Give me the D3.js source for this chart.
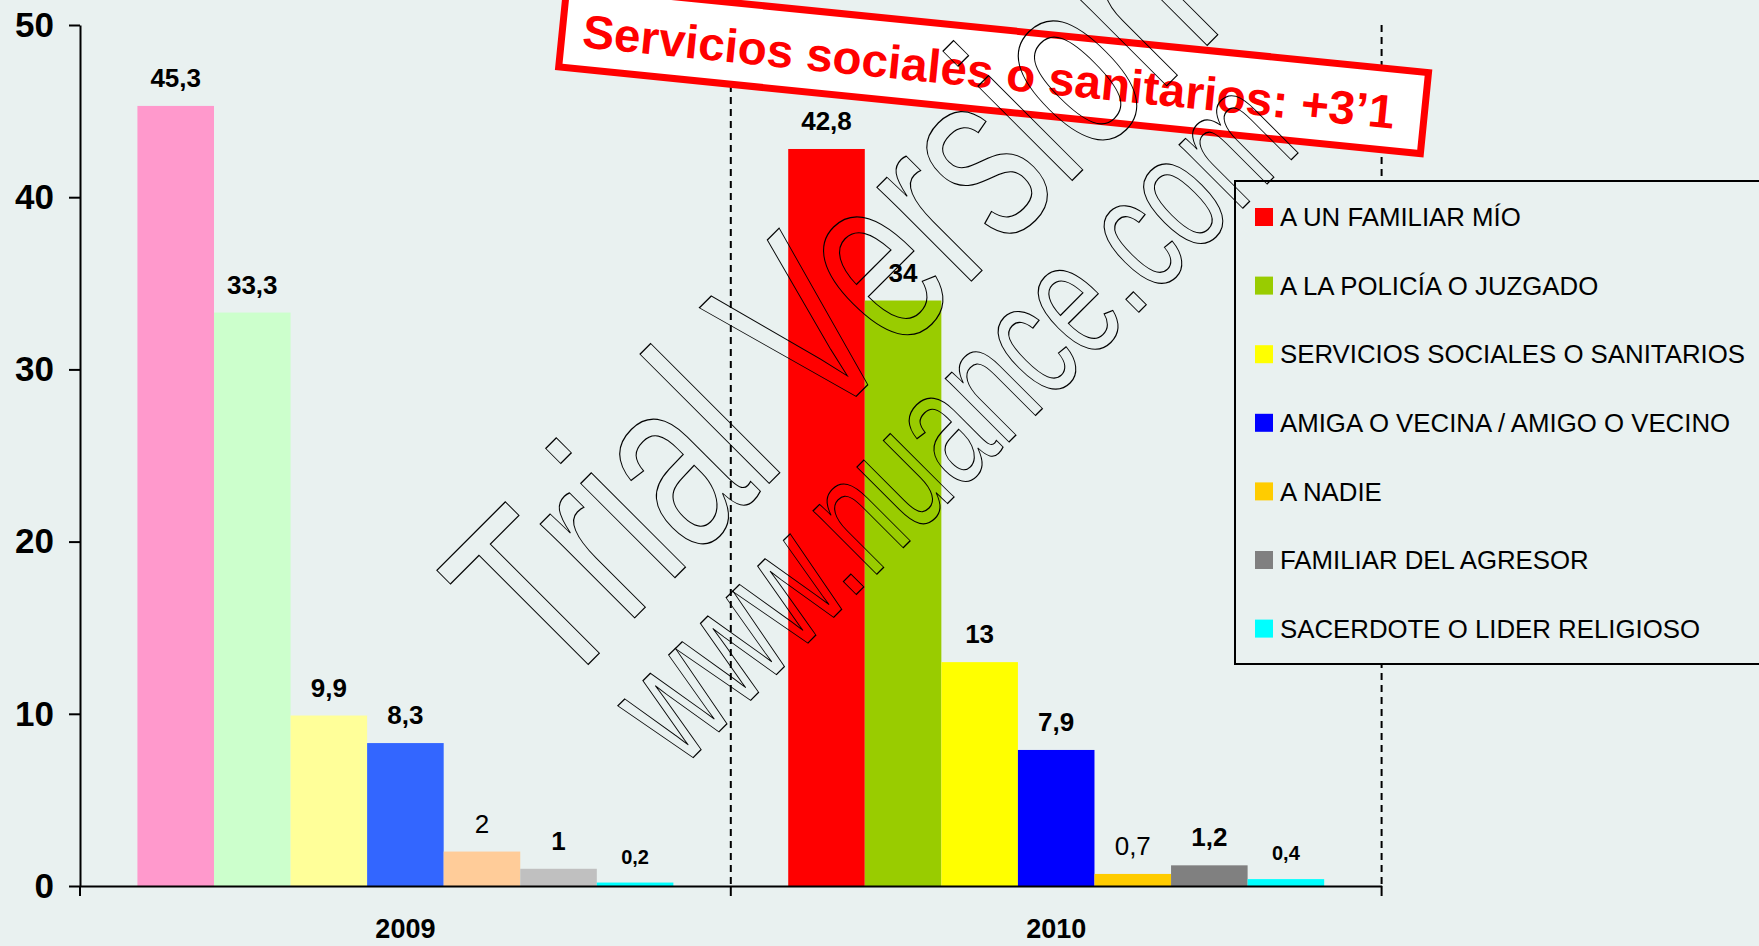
<!DOCTYPE html>
<html>
<head>
<meta charset="utf-8">
<script src="https://cdn.jsdelivr.net/npm/d3@7"></script>
<style>
  html, body { margin: 0; padding: 0; background: #e9f1f0; }
  svg { display: block; font-family: "Liberation Sans", Arial, sans-serif; }
</style>
</head>
<body>
<svg width="1759" height="946"></svg>
<script>
// Data
var years = ["2009", "2010"];
var series = [
  "A UN FAMILIAR MÍO",
  "A LA POLICÍA O JUZGADO",
  "SERVICIOS SOCIALES O SANITARIOS",
  "AMIGA O VECINA / AMIGO O VECINO",
  "A NADIE",
  "FAMILIAR DEL AGRESOR",
  "SACERDOTE O LIDER RELIGIOSO"
];
var values2009 = [45.3, 33.3, 9.9, 8.3, 2, 1, 0.2];
var values2010 = [42.8, 34, 13, 7.9, 0.7, 1.2, 0.4];
var colors2009 = ["#ff99cc", "#ccffcc", "#ffff99", "#3366ff", "#ffcc99", "#c0c0c0", "#00ffff"];
var colors2010 = ["#ff0000", "#99cc00", "#ffff00", "#0000ff", "#ffcc00", "#808080", "#00ffff"];
var yTicks = [0, 10, 20, 30, 40, 50];
var bannerText = "Servicios sociales o sanitarios: +3’1";
var watermark = ["Trial Version", "www.nuance.com"];

var svg = d3.select("svg"),
    width = +svg.attr("width"),
    height = +svg.attr("height");

var plot = { left: 80, right: 1381.6, top: 25, bottom: 886 };

svg.append("rect").attr("width", width).attr("height", height).attr("fill", "#e9f1f0");

// Scales
var x0 = d3.scaleBand().domain(years).range([plot.left, plot.right]).padding(0);
var x1 = d3.scaleBand().domain(series).range([0, x0.bandwidth()])
    .paddingInner(0).paddingOuter(0.75);
var y = d3.scaleLinear().domain([0, 50]).range([plot.bottom, plot.top]);

var rows = years.map(function(yr, i) {
  var vals = i === 0 ? values2009 : values2010;
  var cols = i === 0 ? colors2009 : colors2010;
  return series.map(function(s, j) {
    return { year: yr, key: s, idx: j, value: vals[j], color: cols[j] };
  });
});

// Dashed separators
svg.append("g")
  .selectAll("line")
  .data(years.slice(1).concat(["end"]))
  .enter().append("line")
    .attr("x1", function(d) { return d === "end" ? plot.right : x0(d); })
    .attr("x2", function(d) { return d === "end" ? plot.right : x0(d); })
    .attr("y1", plot.top)
    .attr("y2", plot.bottom)
    .attr("stroke", "#000")
    .attr("stroke-width", 2)
    .attr("stroke-dasharray", "7,5");

// Bars
var groups = svg.append("g")
  .selectAll("g")
  .data(rows)
  .enter().append("g")
    .attr("transform", function(d) { return "translate(" + x0(d[0].year) + ",0)"; });

groups.selectAll("rect")
  .data(function(d) { return d; })
  .enter().append("rect")
    .attr("x", function(d) { return x1(d.key); })
    .attr("y", function(d) { return y(d.value); })
    .attr("width", x1.bandwidth())
    .attr("height", function(d) { return y(0) - y(d.value); })
    .attr("fill", function(d) { return d.color; });

// Value labels
groups.selectAll("text")
  .data(function(d) { return d; })
  .enter().append("text")
    .attr("x", function(d) { return x1(d.key) + x1.bandwidth() / 2; })
    .attr("y", function(d) { return y(d.value) - 19; })
    .attr("text-anchor", "middle")
    .attr("font-size", function(d) { return d.idx === 6 ? 20 : 26; })
    .attr("font-weight", function(d) { return d.idx === 4 ? "normal" : "bold"; })
    .attr("fill", "#000")
    .text(function(d) { return String(d.value).replace(".", ","); });

// Y axis
var yAxis = svg.append("g")
  .attr("transform", "translate(" + plot.left + ",0)")
  .call(d3.axisLeft(y).tickValues(yTicks).tickSize(11).tickSizeOuter(0).tickPadding(15));
yAxis.select(".domain").attr("stroke", "#000").attr("stroke-width", 2);
yAxis.selectAll(".tick line").attr("stroke", "#000").attr("stroke-width", 2);
yAxis.selectAll(".tick text")
  .attr("font-family", "'Liberation Sans', Arial, sans-serif")
  .attr("font-size", 35)
  .attr("font-weight", "bold")
  .attr("fill", "#000");

// X axis
var xAxis = svg.append("g")
  .attr("transform", "translate(0," + plot.bottom + ")")
  .call(d3.axisBottom(x0).tickSize(0).tickPadding(33));
xAxis.select(".domain").attr("stroke", "#000").attr("stroke-width", 2);
xAxis.selectAll(".tick text")
  .attr("font-family", "'Liberation Sans', Arial, sans-serif")
  .attr("font-size", 27)
  .attr("font-weight", "bold")
  .attr("fill", "#000");
xAxis.selectAll("line.bound")
  .data(years.concat(["end"]))
  .enter().append("line")
    .attr("class", "bound")
    .attr("x1", function(d) { return d === "end" ? plot.right : x0(d); })
    .attr("x2", function(d) { return d === "end" ? plot.right : x0(d); })
    .attr("y1", 0)
    .attr("y2", 10)
    .attr("stroke", "#000")
    .attr("stroke-width", 2);

// Legend
var legend = svg.append("g").attr("transform", "translate(1235,181)");
legend.append("rect")
  .attr("width", 560).attr("height", 483)
  .attr("fill", "#e9f1f0").attr("stroke", "#000").attr("stroke-width", 2);
var item = legend.selectAll("g.item")
  .data(series)
  .enter().append("g")
    .attr("class", "item")
    .attr("transform", function(d, i) { return "translate(0," + (36 + i * 68.6) + ")"; });
item.append("rect")
  .attr("x", 20).attr("y", -9).attr("width", 18).attr("height", 18)
  .attr("fill", function(d, i) { return colors2010[i]; });
item.append("text")
  .attr("x", 45).attr("dy", "0.36em")
  .attr("font-size", 25.8)
  .attr("fill", "#000")
  .text(function(d) { return d; });

// Banner
var banner = svg.append("g").attr("transform", "translate(993.6,69.8) rotate(5.74)");
banner.append("rect")
  .attr("x", -433).attr("y", -40.7).attr("width", 866).attr("height", 81.4)
  .attr("fill", "#fff").attr("stroke", "#ff0000").attr("stroke-width", 7);
banner.append("text")
  .attr("x", -4.6).attr("y", 18.7)
  .attr("text-anchor", "middle")
  .attr("font-size", 47)
  .attr("font-weight", "bold")
  .attr("fill", "#ff0000")
  .attr("textLength", 816)
  .attr("lengthAdjust", "spacingAndGlyphs")
  .text(bannerText);

// Watermark outlines
var wm = [
  { text: watermark[0], x: 556.8, y: 695.7, size: 252, sx: 0.68 },
  { text: watermark[1], x: 681.6, y: 769.3, size: 170, sx: 0.66 }
];
svg.append("g")
  .selectAll("text")
  .data(wm)
  .enter().append("text")
    .attr("transform", function(d) {
      return "translate(" + d.x + "," + d.y + ") rotate(-45) scale(" + d.sx + ",1)";
    })
    .attr("font-size", function(d) { return d.size; })
    .attr("fill", "none")
    .attr("stroke", "#000")
    .attr("stroke-width", 1.1)
    .attr("vector-effect", "non-scaling-stroke")
    .text(function(d) { return d.text; });
</script>
</body>
</html>
